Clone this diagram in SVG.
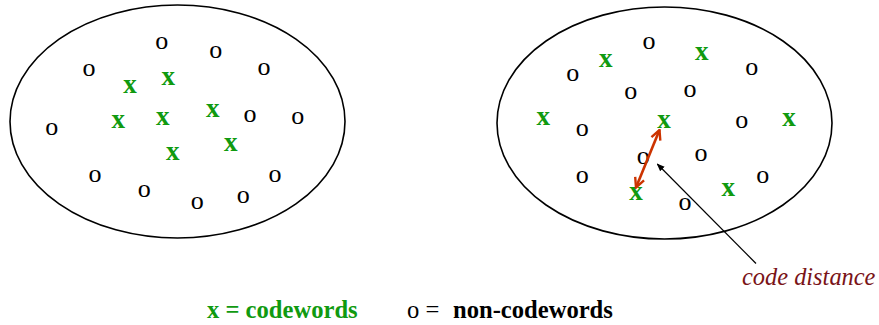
<svg xmlns="http://www.w3.org/2000/svg" width="879" height="325" viewBox="0 0 879 325">
<style>
.e{fill:none;stroke:#000;stroke-width:1.6}
.o{font-family:'Liberation Serif','Times New Roman',Times,serif;font-size:26px;fill:#000;text-anchor:middle}
.x{font-family:'Liberation Serif','Times New Roman',Times,serif;font-size:27px;font-weight:bold;fill:#109a10;text-anchor:middle}
.lg{font-family:'Liberation Serif','Times New Roman',Times,serif;font-size:24.6px}
.cd{font-family:'Liberation Serif','Times New Roman',Times,serif;font-size:24.4px;font-style:italic;fill:#7a1418}
</style>
<defs>
<marker id="red" viewBox="0 0 10 10" refX="9" refY="5" markerWidth="4.6" markerHeight="4.6" orient="auto-start-reverse" markerUnits="strokeWidth">
<path d="M1,1 L9,5 L1,9" fill="none" stroke="#cc3300" stroke-width="2"/>
</marker>
<marker id="blk" viewBox="0 0 10 10" refX="9" refY="5" markerWidth="8" markerHeight="8" orient="auto" markerUnits="userSpaceOnUse">
<path d="M0,1 L10,5 L0,9 z" fill="#000"/>
</marker>
</defs>
<g id="left-space">
<ellipse class="e" cx="177.5" cy="121.5" rx="167.5" ry="116.5"/>
<text class="o" x="161.7" y="48.7">o</text>
<text class="o" x="215.7" y="57.7">o</text>
<text class="o" x="89" y="76">o</text>
<text class="o" x="264" y="75">o</text>
<text class="o" x="51.7" y="135">o</text>
<text class="o" x="250" y="122">o</text>
<text class="o" x="297.7" y="124.3">o</text>
<text class="o" x="95" y="181.7">o</text>
<text class="o" x="144.3" y="196.7">o</text>
<text class="o" x="197.3" y="209.3">o</text>
<text class="o" x="243.3" y="202.7">o</text>
<text class="o" x="275" y="181.7">o</text>
<text class="x" x="130" y="92.5">x</text>
<text class="x" x="168.3" y="84.8">x</text>
<text class="x" x="118.3" y="128.2">x</text>
<text class="x" x="162.7" y="124.8">x</text>
<text class="x" x="212.7" y="117.2">x</text>
<text class="x" x="172.7" y="159.8">x</text>
<text class="x" x="230.7" y="150.8">x</text>
</g>
<g id="right-space">
<ellipse class="e" cx="664.5" cy="123" rx="167.5" ry="116"/>
<text class="o" x="649" y="49.3">o</text>
<text class="o" x="572.7" y="81">o</text>
<text class="o" x="751.7" y="75.3">o</text>
<text class="o" x="630.7" y="99.3">o</text>
<text class="o" x="690" y="96.7">o</text>
<text class="o" x="582.3" y="136">o</text>
<text class="o" x="741.7" y="127.7">o</text>
<text class="o" x="643.3" y="164.3">o</text>
<text class="o" x="701" y="161">o</text>
<text class="o" x="582.3" y="182.7">o</text>
<text class="o" x="762.7" y="182.7">o</text>
<text class="o" x="685" y="210">o</text>
<text class="x" x="605.7" y="67.2">x</text>
<text class="x" x="701.7" y="59.8">x</text>
<text class="x" x="543.3" y="124.8">x</text>
<text class="x" x="664" y="128.2">x</text>
<text class="x" x="789" y="125.8">x</text>
<text class="x" x="636" y="199.8">x</text>
<text class="x" x="728.3" y="195.8">x</text>
</g>
<g id="connectors">
<line x1="659.5" y1="130" x2="636" y2="187.5" stroke="#cc3300" stroke-width="2.6" marker-start="url(#red)" marker-end="url(#red)"/>
<line x1="756" y1="263.5" x2="657.3" y2="164" stroke="#000" stroke-width="1.2" marker-end="url(#blk)"/>
</g>
<g id="labels">
<text class="cd" x="742" y="285">code distance</text>
<text class="lg" x="207" y="318" font-weight="bold" fill="#109a10">x = codewords</text>
<text class="lg" x="407" y="318" fill="#000">o =</text>
<text class="lg" x="453" y="318" font-weight="bold" fill="#000">non-codewords</text>
</g>
</svg>
